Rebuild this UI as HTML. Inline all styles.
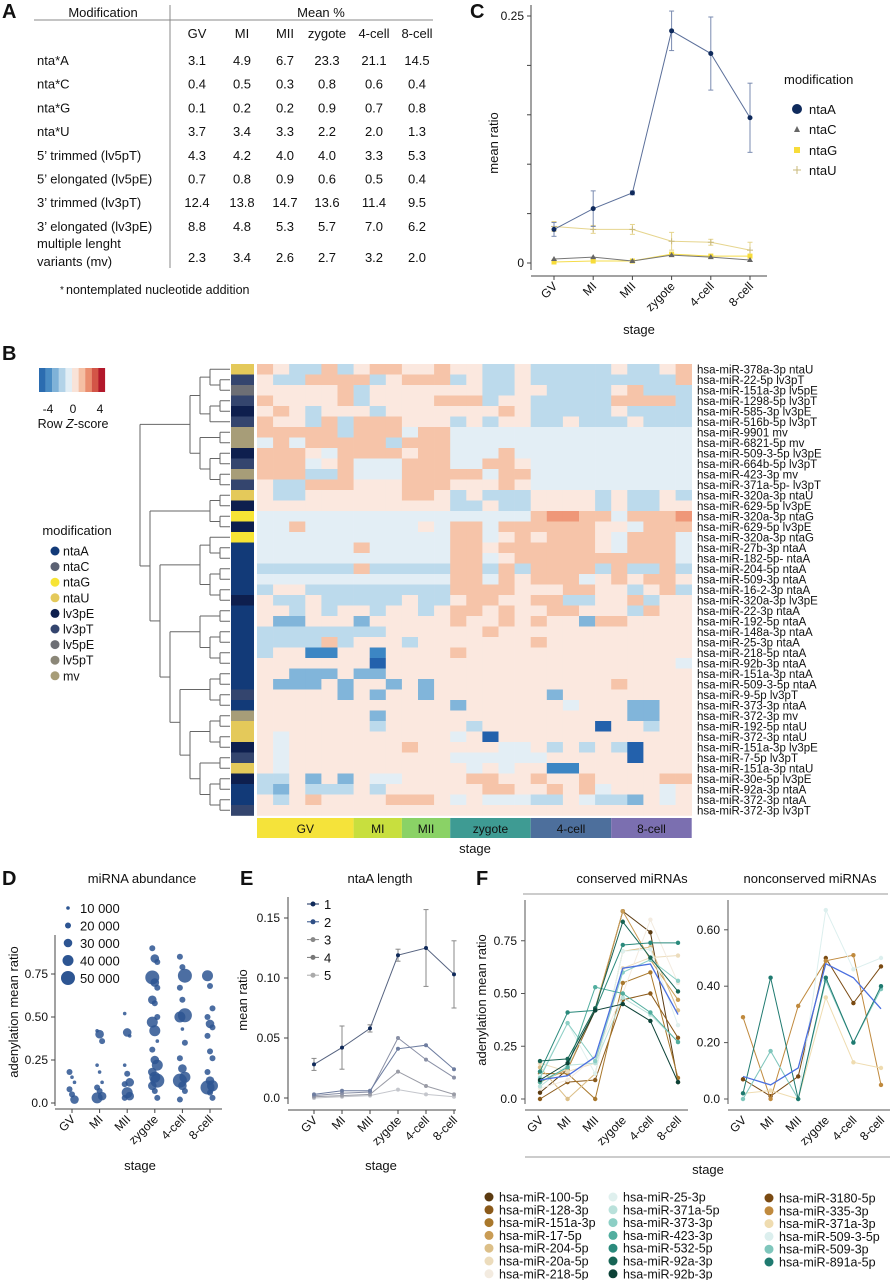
<!DOCTYPE html>
<html><head><meta charset="utf-8"><style>
html,body{margin:0;padding:0;background:#fff;}
svg{display:block;font-family:"Liberation Sans",Arial,sans-serif;}
</style></head><body>
<svg id="fig" width="895" height="1280" viewBox="0 0 895 1280" xmlns="http://www.w3.org/2000/svg"></svg>
<script>
// ---------- DATA ----------
const stages = ["GV","MI","MII","zygote","4-cell","8-cell"];
// Panel A table
const tableRows = ["nta*A","nta*C","nta*G","nta*U","5\u2019 trimmed (lv5pT)","5\u2019 elongated (lv5pE)","3\u2019 trimmed (lv3pT)","3\u2019 elongated (lv3pE)"];
const tableVals = [
 ["3.1","4.9","6.7","23.3","21.1","14.5"],["0.4","0.5","0.3","0.8","0.6","0.4"],
 ["0.1","0.2","0.2","0.9","0.7","0.8"],["3.7","3.4","3.3","2.2","2.0","1.3"],
 ["4.3","4.2","4.0","4.0","3.3","5.3"],["0.7","0.8","0.9","0.6","0.5","0.4"],
 ["12.4","13.8","14.7","13.6","11.4","9.5"],["8.8","4.8","5.3","5.7","7.0","6.2"]];
const mvVals = ["2.3","3.4","2.6","2.7","3.2","2.0"];
// Panel C
const cNtaA = [0.034,0.055,0.071,0.235,0.212,0.147];
const cNtaAErr = [0.007,0.018,0.002,0.020,0.037,0.035];
const cNtaC = [0.004,0.006,0.002,0.008,0.006,0.003];
const cNtaG = [0.001,0.002,0.002,0.009,0.007,0.007];
const cNtaU = [0.037,0.034,0.034,0.022,0.021,0.013];
const cNtaUErr = [0.005,0.004,0.005,0.009,0.003,0.008];
// Panel B heatmap
const hmLabels = ["hsa-miR-378a-3p ntaU","hsa-miR-22-5p lv3pT","hsa-miR-151a-3p lv5pE","hsa-miR-1298-5p lv3pT","hsa-miR-585-3p lv3pE","hsa-miR-516b-5p lv3pT","hsa-miR-9901 mv","hsa-miR-6821-5p mv","hsa-miR-509-3-5p lv3pE","hsa-miR-664b-5p lv3pT","hsa-miR-423-3p mv","hsa-miR-371a-5p- lv3pT","hsa-miR-320a-3p ntaU","hsa-miR-629-5p lv3pE","hsa-miR-320a-3p ntaG","hsa-miR-629-5p lv3pE","hsa-miR-320a-3p ntaG","hsa-miR-27b-3p ntaA","hsa-miR-182-5p- ntaA","hsa-miR-204-5p ntaA","hsa-miR-509-3p ntaA","hsa-miR-16-2-3p ntaA","hsa-miR-320a-3p lv3pE","hsa-miR-22-3p ntaA","hsa-miR-192-5p ntaA","hsa-miR-148a-3p ntaA","hsa-miR-25-3p ntaA","hsa-miR-218-5p ntaA","hsa-miR-92b-3p ntaA","hsa-miR-151a-3p ntaA","hsa-miR-509-3-5p ntaA","hsa-miR-9-5p lv3pT","hsa-miR-373-3p ntaA","hsa-miR-372-3p mv","hsa-miR-192-5p ntaU","hsa-miR-372-3p ntaU","hsa-miR-151a-3p lv3pE","hsa-miR-7-5p lv3pT","hsa-miR-151a-3p ntaU","hsa-miR-30e-5p lv3pE","hsa-miR-92a-3p ntaA","hsa-miR-372-3p ntaA","hsa-miR-372-3p lv3pT"];
const hmRows = [
"opbbob poo ppo ppbbp bbbbb pbbpo","pbbooo obp ooo bpbbp bbbbb bbbbo","pppppo bpp ppp ppbbp pbbbb pobbb",
"oppppo bpp ppo oobpp bbbbb oooob","popbpp pbp ppp pppop bbbbb pbbbb","oppbob ooo ppp bpbpp bbpbb bpbbb",
"ooooob ooo loo lllll lllll lllll","lolooo oob ooo lllll lllll lllll","oooplo ooo poo lllol lllll lllll",
"ooolpo lll ooo lloop lllll lllll","ooobbo lll ooo ooloo lllll lllll","pbbooo ppp ooo pppop lllll lllll",
"pbbppp ppp oop bpbbb ppppb pbbpb","pppppp ppp ppp bbpbb ppppb pbbpp","llllll lll lll lllll oRRoo loooR",
"llolll lll lpl ooloo oooop plooo","llllll lll lll oolpo pooop loool","llllll oll lll oopoo oooop loool",
"llllll lll lll oolpo ooooo ooool","bbbbbb obb bbb oobob oooob obbob","llllll lll lll oolop ooolp opoop",
"bppbbb bbb bbb oooop ppoop pbpob","pbbpbb bbb pbb poopp oobbp pobpp","ppbpbp pbp pbp oopop poopp pbopp",
"pmmppp mpp ppp oppop oppmo opppp","bbbbbb bbp ppp ppopp ppppp ppppp","bbbbob ppp bpp ppppp opppp ppppp",
"bppddp pdp ppp opppp ppppp ppppp","pppppp pDp ppp ppppp ppppp ppppl","ppmmmp mmp ppp ppppp ppppp ppppp",
"pmmmpm ppm pmp ppppp ppppp opppp","pppppm pmp pmp ppppp pmppp ppppp","pppppp ppp ppp mpppp pplpp pmmpp",
"pppppp pmp ppp ppppp ppppp pmmpp","pppppp pbp ppp pbppp ppppD ppbpp","plpppp ppp ppp lpDpp ppppp ppppp",
"plpppp ppp opp pppll pbpbp bDppp","plpppp ppp ppp lllll lpppp pDppp","plpppp ppp ppp plplp pddpp ppppp",
"bbpmpm pll ppp poopp oppop pppoo","bmpbbb pbp ppp ppoop popol ppplp","pbpopp ppo oop lplll bbplb bmplp",
"pppppp ppp ppp ppppp ppppp ppppp"];
const stageCols = [6,3,3,5,5,5];
const dendro = [
 [[[0,[1,2]],[[3,4],5]],[[6,7],[[8,9],[10,11]]]],
 [[[12,13],[14,15]],[[[16,[17,18]],[[19,20],[21,22]]],[[[23,24],[[25,26],[27,28]]],[[[29,30],[31,32]],[[[33,34],[35,36]],[[37,38],[[39,40],[41,42]]]]]]]]];
const modNames = ["ntaA","ntaC","ntaG","ntaU","lv3pE","lv3pT","lv5pE","lv5pT","mv"];
// Panel D: [value, sizeClass]
const dGV = [[.18,2],[.15,1],[.12,1],[.08,2],[.05,2],[.02,3]];
const dMI = [[.42,1],[.40,3],[.36,2],[.22,1],[.18,1],[.12,1],[.09,2],[.07,2],[.04,3],[.03,4]];
const dMII = [[.52,1],[.41,3],[.39,1],[.22,1],[.17,2],[.12,3],[.11,2],[.06,4],[.04,3],[.03,2]];
const dZyg = [[.90,2],[.84,3],[.82,2],[.73,5],[.70,3],[.67,2],[.60,3],[.58,2],[.50,2],[.47,4],[.42,4],[.36,1],[.31,2],[.25,3],[.22,4],[.18,3],[.15,4],[.13,5],[.10,3],[.07,2],[.03,2]];
const d4c = [[.85,2],[.79,2],[.74,5],[.67,2],[.60,2],[.51,5],[.50,4],[.43,1],[.35,2],[.26,2],[.20,3],[.15,4],[.13,5],[.10,3],[.07,2],[.02,2]];
const d8c = [[.74,4],[.68,2],[.55,2],[.50,2],[.46,3],[.44,2],[.39,2],[.30,2],[.26,2],[.18,2],[.13,3],[.10,4],[.09,5],[.06,2],[.03,2]];
const dLegend = ["10 000","20 000","30 000","40 000","50 000"];
// Panel E
const eLen1 = [0.028,0.042,0.058,0.119,0.125,0.103];
const eErr1 = [0.005,0.018,0.003,0.005,0.032,0.028];
const eLen2 = [0.003,0.006,0.006,0.041,0.044,0.024];
const eLen3 = [0.002,0.004,0.005,0.050,0.032,0.017];
const eLen4 = [0.001,0.002,0.003,0.022,0.010,0.003];
const eLen5 = [0.000,0.001,0.002,0.007,0.003,0.001];
// Panel F
const fConsNames = ["hsa-miR-100-5p","hsa-miR-128-3p","hsa-miR-151a-3p","hsa-miR-17-5p","hsa-miR-204-5p","hsa-miR-20a-5p","hsa-miR-218-5p","hsa-miR-25-3p","hsa-miR-371a-5p","hsa-miR-373-3p","hsa-miR-423-3p","hsa-miR-532-5p","hsa-miR-92a-3p","hsa-miR-92b-3p"];
const fConsVals = [
 [.03,.14,.42,.89,.79,.08],[.00,.08,.09,.47,.50,.29],[.12,.12,.00,.55,.60,.10],[.08,.14,.43,.89,.66,.47],
 [.15,.00,.12,.70,.72,.42],[.17,.13,.17,.62,.67,.68],[.05,.09,.20,.50,.85,.55],[.11,.36,.12,.70,.71,.35],
 [.06,.16,.17,.48,.40,.27],[.10,.36,.18,.60,.66,.56],[.08,.15,.53,.50,.41,.27],[.13,.41,.42,.73,.74,.74],
 [.18,.19,.43,.84,.67,.51],[.09,.17,.42,.45,.37,.08]];
const fConsMean = [.09,.11,.20,.62,.64,.40];
const fNonNames = ["hsa-miR-3180-5p","hsa-miR-335-3p","hsa-miR-371a-3p","hsa-miR-509-3-5p","hsa-miR-509-3p","hsa-miR-891a-5p"];
const fNonVals = [[.07,.01,.08,.50,.34,.47],[.29,.00,.33,.49,.51,.05],[.02,.03,.00,.36,.13,.11],[.00,.17,.00,.67,.46,.50],[.00,.17,.00,.42,.20,.39],[.02,.43,.00,.43,.20,.40]];
const fNonMean = [.08,.05,.11,.48,.43,.32];

// ---------- STYLE ----------
const modColors = {ntaA:"#123a78",ntaC:"#5b6173",ntaG:"#f7e435",ntaU:"#e4c95a",lv3pE:"#0e1f4e",lv3pT:"#34456e",lv5pE:"#6d6f75",lv5pT:"#8b8778",mv:"#a79d78"};
const hmColors = {p:"#fbe8df",o:"#f6c4a9",R:"#ef9778",l:"#e3eef5",b:"#bcdaec",m:"#81b5da",d:"#3c86c4",D:"#2361ac"};
const stageColors = ["#f5e33a","#c8df3e","#8ad266","#3e9b93","#4d6f9c","#7b6fb0"];
const consColors = ["#5b3a10","#8b5a1a","#a9782c","#c99c55","#dcbf88","#ecdcbc","#f3ebe0","#dff0ee","#b9e1db","#8ccfc5","#52ae9f","#2b8a7c","#176555","#0c4237"];
const nonColors = ["#7a4a12","#c08a3e","#efdcb0","#dcefee","#7fc6bc","#1f7a70"];

const NS="http://www.w3.org/2000/svg";
const svg=document.getElementById('fig');
function mk(tag,attrs,name,inter,parent){
  const el=document.createElementNS(NS,tag);
  for(const k in attrs) el.setAttribute(k,attrs[k]);
  
  
  (parent||svg).appendChild(el);
  return el;
}
function txt(x,y,s,name,opt){
  opt=opt||{};
  const t=mk('text',Object.assign({x:x,y:y,'font-size':opt.fs||13,fill:opt.fill||'#111','text-anchor':opt.anchor||'start','font-weight':opt.fw||'normal'},opt.tr?{transform:opt.tr}:{}),name,false,opt.parent);
  t.textContent=s;return t;
}
function line(x1,y1,x2,y2,name,stroke,w,parent){return mk('line',{x1:x1,y1:y1,x2:x2,y2:y2,stroke:stroke||'#555','stroke-width':w||1},name,false,parent);}
function poly(pts,name,stroke,w,parent){return mk('polyline',{points:pts.map(p=>p.join(',')).join(' '),fill:'none',stroke:stroke,'stroke-width':w||1},name,false,parent);}

// ---------- PANEL A ----------
const gA=mk('g',{},'panel-a-table',false);
txt(2,18,"A","panel-a-letter",{fs:20,fw:'bold',parent:gA});
txt(103,17,"Modification","table-header-modification",{anchor:'middle',parent:gA});
txt(321,17,"Mean %","table-header-mean",{anchor:'middle',parent:gA});
line(34,20,433,20,"table-header-rule","#888",1,gA);
line(170,5,170,268,"table-vertical-rule","#888",1,gA);
const colX=[197,242,285,327,374,417];
stages.forEach((s,i)=>txt(colX[i],38,s,"table-col-"+s,{anchor:'middle',parent:gA}));
tableRows.forEach((r,i)=>{
  const y=65+i*23.7;
  txt(37,y,r,"table-row-label",{parent:gA});
  tableVals[i].forEach((v,j)=>txt(colX[j],y,v,"table-cell",{anchor:'middle',parent:gA}));
});
txt(37,248,"multiple lenght","table-row-label",{parent:gA});
txt(37,266,"variants (mv)","table-row-label",{parent:gA});
mvVals.forEach((v,j)=>txt(colX[j],262,v,"table-cell",{anchor:'middle',parent:gA}));
txt(60,293,"*","footnote-star",{fs:10,parent:gA});
txt(66,294,"nontemplated nucleotide addition","table-footnote",{fs:12.5,parent:gA});

// ---------- PANEL C ----------
const gC=mk('g',{},'panel-c-chart',false);
const cx=i=>554+i*39.2, cy=v=>263-v*988;
txt(470,18,"C","panel-c-letter",{fs:20,fw:'bold',parent:gC});
line(531,5,531,270,"c-y-axis","#444",1,gC);
line(531,276,767,276,"c-x-axis","#444",1,gC);
[0,0.05,0.1,0.15,0.2,0.25].forEach(v=>line(527,cy(v),531,cy(v),"c-y-tick","#444",1,gC));
txt(524,cy(0.25)+4,"0.25","c-y-tick-label",{anchor:'end',fs:12,parent:gC});
txt(524,cy(0)+4,"0","c-y-tick-label",{anchor:'end',fs:12,parent:gC});
stages.forEach((s,i)=>{line(cx(i),276,cx(i),280,"c-x-tick","#444",1,gC);
  txt(cx(i)+4,287,s,"c-x-tick-label",{anchor:'end',fs:12,tr:`rotate(-45 ${cx(i)+4} 287)`,parent:gC});});
txt(639,334,"stage","c-x-axis-title",{anchor:'middle',parent:gC});
txt(498,143,"mean ratio","c-y-axis-title",{anchor:'middle',tr:'rotate(-90 498 143)',parent:gC});
function errBars(vals,errs,col,name,xf,yf,g){vals.forEach((v,i)=>{const x=xf(i);
  line(x,yf(v-errs[i]),x,yf(v+errs[i]),name,col,1,g);line(x-2.5,yf(v-errs[i]),x+2.5,yf(v-errs[i]),name,col,1,g);line(x-2.5,yf(v+errs[i]),x+2.5,yf(v+errs[i]),name,col,1,g);});}
errBars(cNtaU,cNtaUErr,"#e6d58e","c-ntaU-error",cx,cy,gC);
poly(cNtaU.map((v,i)=>[cx(i),cy(v)]),"c-ntaU-line","#e6d58e",1,gC);
cNtaU.forEach((v,i)=>{line(cx(i)-3,cy(v),cx(i)+3,cy(v),"c-ntaU-point","#c8b87a",1,gC);line(cx(i),cy(v)-3,cx(i),cy(v)+3,"c-ntaU-point","#c8b87a",1,gC);});
poly(cNtaG.map((v,i)=>[cx(i),cy(v)]),"c-ntaG-line","#f5dc4a",1,gC);
cNtaG.forEach((v,i)=>mk('rect',{x:cx(i)-2.5,y:cy(v)-2.5,width:5,height:5,fill:"#f7dc3a"},"c-ntaG-point",false,gC));
poly(cNtaC.map((v,i)=>[cx(i),cy(v)]),"c-ntaC-line","#777",1,gC);
cNtaC.forEach((v,i)=>mk('polygon',{points:`${cx(i)},${cy(v)-3} ${cx(i)-3},${cy(v)+2} ${cx(i)+3},${cy(v)+2}`,fill:"#666"},"c-ntaC-point",false,gC));
errBars(cNtaA,cNtaAErr,"#7a8bb0","c-ntaA-error",cx,cy,gC);
poly(cNtaA.map((v,i)=>[cx(i),cy(v)]),"c-ntaA-line","#5b6f9a",1,gC);
cNtaA.forEach((v,i)=>mk('circle',{cx:cx(i),cy:cy(v),r:2.5,fill:"#0f2a5c"},"c-ntaA-point",false,gC));
txt(784,84,"modification","c-legend-title",{parent:gC});
mk('circle',{cx:797,cy:109,r:5,fill:"#0f2a5c"},"c-legend-ntaA-key",false,gC);
txt(809,114,"ntaA","c-legend-ntaA",{parent:gC});
mk('polygon',{points:"797,126 794,132 800,132",fill:"#666"},"c-legend-ntaC-key",false,gC);
txt(809,134,"ntaC","c-legend-ntaC",{parent:gC});
mk('rect',{x:794,y:147,width:6,height:6,fill:"#f7dc3a"},"c-legend-ntaG-key",false,gC);
txt(809,155,"ntaG","c-legend-ntaG",{parent:gC});
line(793,170,801,170,"c-legend-ntaU-key","#c8b87a",1,gC);line(797,166,797,174,"c-legend-ntaU-key","#c8b87a",1,gC);
txt(809,175,"ntaU","c-legend-ntaU",{parent:gC});

// ---------- PANEL B ----------
const gB=mk('g',{},'panel-b-heatmap',false);
txt(2,360,"B","panel-b-letter",{fs:20,fw:'bold',parent:gB});
const cbCols=["#2b6cb0","#4a8cc4","#7fb2d8","#b3d3e8","#e2eef5","#f9e3d8","#f5bfa3","#ea8d6e","#d35547","#b2182b"];
cbCols.forEach((c,i)=>mk('rect',{x:39+i*6.6,y:368,width:6.7,height:24,fill:c},"zscore-colorbar-cell",false,gB));
[["-4",48],["0",73],["4",100]].forEach(t=>txt(t[1],413,t[0],"zscore-tick-label",{anchor:'middle',fs:12,parent:gB}));
const zt=mk('text',{x:73,y:428,'font-size':12.5,fill:'#111','text-anchor':'middle'},"zscore-title",false,gB);
zt.innerHTML='Row <tspan font-style="italic">Z</tspan>-score';
txt(77,535,"modification","mod-legend-title",{anchor:'middle',parent:gB});
modNames.forEach((m,i)=>{const y=551+i*15.6;
  mk('circle',{cx:55,cy:y,r:4.5,fill:modColors[m]},"mod-legend-key",false,gB);
  txt(63,y+4.5,m,"mod-legend-label",{fs:12.5,parent:gB});});
const hx0=257,hy0=364,cw=16.1,rh=10.5;
const rowY=r=>hy0+rh*r+rh/2;
hmRows.forEach((rs,r)=>{const s=rs.replace(/ /g,'');
  for(let c=0;c<s.length;c++) mk('rect',{x:hx0+c*cw,y:hy0+r*rh,width:cw+0.3,height:rh+0.3,fill:hmColors[s[c]]},"heatmap-cell",false,gB);});
hmLabels.forEach((l,r)=>{const mod=l.split(' ').pop();
  mk('rect',{x:231,y:hy0+r*rh,width:23,height:rh+0.3,fill:modColors[mod]},"row-annotation-"+mod,false,gB);
  txt(697,rowY(r)+4,l,"heatmap-row-label",{fs:11.5,parent:gB});});
let sc=0;
stageCols.forEach((n,i)=>{mk('rect',{x:hx0+sc*cw,y:818,width:n*cw,height:20,fill:stageColors[i]},"stage-bar-"+stages[i],false,gB);
  txt(hx0+(sc+n/2)*cw,833,stages[i],"stage-bar-label",{anchor:'middle',fs:12,parent:gB});sc+=n;});
txt(475,853,"stage","heatmap-stage-title",{anchor:'middle',parent:gB});
function drawTree(node){
  if(typeof node==='number') return {y:rowY(node),h:0};
  const a=drawTree(node[0]),b=drawTree(node[1]);
  const h=Math.max(a.h,b.h)+1, x=230-h*10;
  line(x,a.y,230-a.h*10,a.y,"dendrogram-branch","#666",1,gB);
  line(x,b.y,230-b.h*10,b.y,"dendrogram-branch","#666",1,gB);
  line(x,a.y,x,b.y,"dendrogram-branch","#666",1,gB);
  return {y:(a.y+b.y)/2,h:h};
}
drawTree(dendro);

// ---------- PANEL D ----------
const gD=mk('g',{},'panel-d-bubble',false);
const dx=i=>72+i*27.6, dy=v=>1103-v*172;
txt(2,885,"D","panel-d-letter",{fs:20,fw:'bold',parent:gD});
txt(142,883,"miRNA abundance","d-title",{anchor:'middle',parent:gD});
line(55,935,55,1106,"d-y-axis","#444",1,gD);
line(55,1109,222,1109,"d-x-axis","#444",1,gD);
[0,0.25,0.5,0.75].forEach(v=>{line(51,dy(v),55,dy(v),"d-y-tick","#444",1,gD);
  txt(48,dy(v)+4,v===0?"0.0":v.toFixed(2),"d-y-tick-label",{anchor:'end',fs:12,parent:gD});});
stages.forEach((s,i)=>{line(dx(i),1109,dx(i),1113,"d-x-tick","#444",1,gD);
  txt(dx(i)+4,1120,s,"d-x-tick-label",{anchor:'end',fs:12,tr:`rotate(-45 ${dx(i)+4} 1120)`,parent:gD});});
txt(140,1170,"stage","d-x-axis-title",{anchor:'middle',parent:gD});
txt(18,1012,"adenylation mean ratio","d-y-axis-title",{anchor:'middle',fs:13,tr:'rotate(-90 18 1012)',parent:gD});
const dR=[0,1.8,3,4.3,5.5,7];
[dGV,dMI,dMII,dZyg,d4c,d8c].forEach((arr,i)=>arr.forEach((p,k)=>{
  mk('circle',{cx:dx(i)+((k%3)-1)*2.5,cy:dy(p[0]),r:dR[p[1]],fill:"#2d5592",'fill-opacity':0.85},"d-bubble-"+stages[i],false,gD);}));
dLegend.forEach((l,i)=>{const y=908+i*17.5;
  mk('circle',{cx:68,cy:y,r:dR[i+1],fill:"#2d5592"},"d-legend-key",false,gD);
  txt(80,y+5,l,"d-legend-label",{fs:13,parent:gD});});

// ---------- PANEL E ----------
const gE=mk('g',{},'panel-e-line',false);
const ex=i=>314+i*28, ey=v=>1098-v*1200;
txt(240,885,"E","panel-e-letter",{fs:20,fw:'bold',parent:gE});
txt(380,883,"ntaA length","e-title",{anchor:'middle',parent:gE});
line(288,897,288,1104,"e-y-axis","#444",1,gE);
line(288,1110,456,1110,"e-x-axis","#444",1,gE);
[0,0.05,0.1,0.15].forEach(v=>{line(284,ey(v),288,ey(v),"e-y-tick","#444",1,gE);
  txt(280,ey(v)+4,v===0?"0.0":v.toFixed(2),"e-y-tick-label",{anchor:'end',fs:12,parent:gE});});
stages.forEach((s,i)=>{line(ex(i),1110,ex(i),1114,"e-x-tick","#444",1,gE);
  txt(ex(i)+4,1121,s,"e-x-tick-label",{anchor:'end',fs:12,tr:`rotate(-45 ${ex(i)+4} 1121)`,parent:gE});});
txt(381,1170,"stage","e-x-axis-title",{anchor:'middle',parent:gE});
txt(247,1000,"mean ratio","e-y-axis-title",{anchor:'middle',tr:'rotate(-90 247 1000)',parent:gE});
errBars(eLen1,eErr1,"#888","e-len1-error",ex,ey,gE);
const eSeries=[[eLen5,"#c4c6cc"],[eLen4,"#9a9ca6"],[eLen3,"#8a90a6"],[eLen2,"#6e7da0"],[eLen1,"#55627f"]];
eSeries.forEach((s,k)=>{poly(s[0].map((v,i)=>[ex(i),ey(v)]),"e-series-line",s[1],1,gE);
  s[0].forEach((v,i)=>mk('circle',{cx:ex(i),cy:ey(v),r:2,fill:k===4?"#102a5a":s[1]},"e-series-point",false,gE));});
const eLegCols=["#102a5a","#2f4f86","#888","#777","#aaa"];
["1","2","3","4","5"].forEach((l,i)=>{const y=904+i*17.8;
  line(307,y,319,y,"e-legend-line",eLegCols[i],1,gE);
  mk('circle',{cx:313,cy:y,r:2.5,fill:eLegCols[i]},"e-legend-key",false,gE);
  txt(324,y+5,l,"e-legend-label",{fs:13,parent:gE});});

// ---------- PANEL F ----------
const gF=mk('g',{},'panel-f-lines',false);
txt(476,885,"F","panel-f-letter",{fs:20,fw:'bold',parent:gF});
txt(632,883,"conserved miRNAs","f-title-conserved",{anchor:'middle',fs:13,parent:gF});
txt(810,883,"nonconserved miRNAs","f-title-nonconserved",{anchor:'middle',fs:13,parent:gF});
line(523,894,888,894,"f-header-rule","#999",1,gF);
const fx1=i=>540+i*27.6, fy1=v=>1099-v*211;
const fx2=i=>743+i*27.6, fy2=v=>1099-v*282;
line(525,900,525,1104,"f-cons-y-axis","#555",1,gF);
line(525,1110,688,1110,"f-cons-x-axis","#555",1,gF);
line(728,900,728,1104,"f-non-y-axis","#555",1,gF);
line(728,1110,890,1110,"f-non-x-axis","#555",1,gF);
[0,0.25,0.5,0.75].forEach(v=>{line(521,fy1(v),525,fy1(v),"f-cons-y-tick","#555",1,gF);
  txt(517,fy1(v)+4,v===0?"0.0":v.toFixed(2),"f-cons-y-tick-label",{anchor:'end',fs:12,parent:gF});});
[0,0.2,0.4,0.6].forEach(v=>{line(724,fy2(v),728,fy2(v),"f-non-y-tick","#555",1,gF);
  txt(720,fy2(v)+4,v===0?"0.0":v.toFixed(2),"f-non-y-tick-label",{anchor:'end',fs:12,parent:gF});});
stages.forEach((s,i)=>{
  txt(fx1(i)+4,1121,s,"f-cons-x-tick-label",{anchor:'end',fs:12,tr:`rotate(-45 ${fx1(i)+4} 1121)`,parent:gF});
  txt(fx2(i)+4,1121,s,"f-non-x-tick-label",{anchor:'end',fs:12,tr:`rotate(-45 ${fx2(i)+4} 1121)`,parent:gF});});
line(525,1157,890,1157,"f-stage-rule","#999",1,gF);
txt(708,1174,"stage","f-x-axis-title",{anchor:'middle',parent:gF});
txt(486,1000,"adenylation mean ratio","f-y-axis-title",{anchor:'middle',fs:13,tr:'rotate(-90 486 1000)',parent:gF});
fConsVals.forEach((vals,k)=>{poly(vals.map((v,i)=>[fx1(i),fy1(v)]),"f-cons-line-"+fConsNames[k],consColors[k],1,gF);
  vals.forEach((v,i)=>mk('circle',{cx:fx1(i),cy:fy1(v),r:2.2,fill:consColors[k]},"f-cons-point",false,gF));});
poly(fConsMean.map((v,i)=>[fx1(i),fy1(v)]),"f-cons-mean-line","#4a6fe0",1.3,gF);
fNonVals.forEach((vals,k)=>{poly(vals.map((v,i)=>[fx2(i),fy2(v)]),"f-non-line-"+fNonNames[k],nonColors[k],1,gF);
  vals.forEach((v,i)=>mk('circle',{cx:fx2(i),cy:fy2(v),r:2.2,fill:nonColors[k]},"f-non-point",false,gF));});
poly(fNonMean.map((v,i)=>[fx2(i),fy2(v)]),"f-non-mean-line","#4a6fe0",1.3,gF);
fConsNames.forEach((n,k)=>{const col=k<7?0:1, r=k%7, x=col?613:489, y=1197+r*12.8;
  mk('circle',{cx:x,cy:y,r:4.5,fill:consColors[k]},"f-legend-key",false,gF);
  txt(x+10,y+4.5,n,"f-legend-label",{fs:12.5,parent:gF});});
fNonNames.forEach((n,k)=>{const x=769, y=1198+k*12.8;
  mk('circle',{cx:x,cy:y,r:4.5,fill:nonColors[k]},"f-legend-key",false,gF);
  txt(x+10,y+4.5,n,"f-legend-label",{fs:12.5,parent:gF});});
</script>
</body></html>
